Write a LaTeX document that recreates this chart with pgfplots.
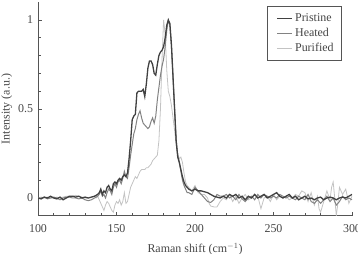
\documentclass[border=0pt]{standalone}
\usepackage{pgfplots}
\pgfplotsset{compat=1.18}
\usepackage{fontspec}
\setmainfont{Liberation Serif}
\definecolor{cPri}{RGB}{65,65,65}
\definecolor{cHea}{RGB}{130,130,130}
\definecolor{cPur}{RGB}{195,195,195}
\definecolor{cAx}{RGB}{85,85,85}
\definecolor{cTxt}{RGB}{70,70,70}
\begin{document}
\begin{tikzpicture}
\begin{axis}[
  scale only axis, width=314bp, height=213.6bp,
  xmin=100, xmax=300, ymin=-0.1, ymax=1.1,
  axis lines*=left, axis line style={cAx, line width=0.8pt},
  xtick={100,150,200,250,300}, ytick={0,0.5,1},
  minor x tick num=4, minor y tick num=4,
  tick align=inside, tick pos=left,
  major tick length=4bp, minor tick length=2.5bp,
  tick style={cAx, line width=0.6pt},
  /pgf/number format/assume math mode=true,
  ticklabel style={font=\fontsize{12}{14}\selectfont, text=cTxt},
  xticklabel style={yshift=-5bp},
  yticklabel style={xshift=-1.5bp},
  label style={font=\fontsize{12}{14}\selectfont, text=cTxt},
  xlabel={Raman shift (cm$^{-1}$)},
  ylabel={Intensity (a.u.)},
  xlabel style={yshift=-4bp},
  ylabel style={yshift=-1bp},
  legend cell align=left, reverse legend,
  legend style={at={(rel axis cs:0.968,0.982)}, anchor=north east,
    draw=cAx, line width=0.7pt, font=\fontsize{12}{13}\selectfont, text=cTxt,
    row sep=1pt, inner xsep=6pt, inner ysep=5.5pt},
  legend image code/.code={\path (0bp,0bp); \draw[#1] (4bp,0bp) -- (19bp,0bp);},
]
\addplot[cPur, line width=0.8pt] coordinates {
(100,0.0)(102,0.005)(104,0.0)(106,0.005)(108,0.0)(110,0.0)(112,0.005)(114,0.0)(116,0.005)(118,0.01)(120,0.01)(122,0.01)(124,0.015)(126,0.01)(128,0.005)(130,0.0)(132,0.0)(134,0.005)(136,0.01)(137,0.0)(138,0.01)(139,-0.01)(140,-0.03)(141,-0.05)(142,-0.07)(143,-0.04)(144,-0.02)(145,-0.03)(146,-0.05)(147,-0.07)(148,-0.08)(149,-0.04)(150,-0.02)(151,-0.03)(152,-0.01)(153,-0.04)(154,-0.02)(155,0.03)(156,-0.03)(157,-0.02)(158,0.02)(159,0.06)(160,0.08)(161,0.1)(162,0.12)(163,0.11)(164,0.13)(165,0.15)(166,0.16)(167,0.16)(168,0.16)(169,0.17)(170,0.17)(171,0.18)(172,0.19)(173,0.21)(174,0.22)(175,0.23)(176,0.24)(177,0.32)(178,0.5)(179,0.78)(180,1.0)(181,0.92)(182,0.72)(183,0.6)(184,0.57)(185,0.52)(186,0.45)(187,0.38)(188,0.3)(189,0.25)(190,0.22)(191,0.23)(192,0.2)(193,0.14)(194,0.09)(195,0.07)(196,0.06)(198,0.04)(200,0.07)(202,0.03)(204,0.02)(206,0.02)(208,0.0)(209,-0.03)(210,-0.045)(212,-0.05)(214,-0.05)(216,-0.02)(218,0.0)(220,-0.01)(222,0.02)(224,-0.02)(226,0.01)(228,-0.03)(230,0.0)(232,0.02)(234,-0.01)(236,0.0)(238,0.02)(240,0.01)(242,-0.06)(244,0.0)(246,0.01)(248,-0.02)(250,0.02)(252,-0.01)(254,0.01)(256,0.0)(258,0.01)(260,-0.01)(262,0.0)(264,0.02)(266,0.01)(268,0.04)(270,0.03)(272,-0.02)(274,0.03)(276,-0.04)(278,0.01)(279,-0.06)(280,-0.08)(282,-0.02)(284,0.04)(286,-0.01)(287,0.06)(288,0.09)(289,0.0)(290,-0.1)(291,-0.03)(292,0.06)(294,0.02)(296,0.05)(298,-0.03)(300,0.01)
};
\addlegendentry{Purified}
\addplot[cHea, line width=1.0pt] coordinates {
(100,0.0)(102,0.0)(104,0.005)(106,-0.005)(108,0.0)(110,0.005)(112,0.0)(114,-0.01)(116,0.0)(118,0.005)(120,0.005)(122,0.0)(124,0.0)(126,-0.005)(128,0.0)(130,-0.01)(132,-0.015)(134,-0.01)(136,0.0)(138,0.01)(139,0.02)(140,0.04)(141,0.01)(142,0.02)(143,0.0)(144,0.03)(145,0.05)(146,0.04)(147,0.02)(148,0.06)(149,0.08)(150,0.06)(151,0.09)(152,0.1)(153,0.08)(154,0.11)(155,0.15)(156,0.12)(157,0.11)(158,0.17)(159,0.24)(160,0.3)(161,0.36)(162,0.39)(163,0.44)(164,0.47)(165,0.49)(166,0.45)(167,0.42)(168,0.41)(169,0.40)(170,0.39)(171,0.40)(172,0.43)(173,0.45)(174,0.42)(175,0.46)(176,0.55)(177,0.62)(178,0.69)(179,0.74)(180,0.78)(181,0.85)(182,0.94)(183,1.0)(184,0.97)(185,0.85)(186,0.68)(187,0.5)(188,0.33)(189,0.24)(190,0.2)(191,0.15)(192,0.1)(193,0.07)(194,0.05)(195,0.03)(196,0.03)(198,0.02)(200,0.06)(202,0.04)(204,0.02)(206,0.0)(208,-0.02)(210,-0.025)(212,-0.01)(214,0.02)(216,0.01)(218,0.01)(220,0.02)(222,0.0)(224,0.01)(226,-0.01)(228,0.02)(230,-0.005)(232,-0.02)(234,0.0)(236,0.01)(238,-0.01)(240,0.02)(242,0.0)(244,0.02)(246,0.01)(248,0.0)(250,0.01)(252,0.0)(254,0.02)(256,0.01)(258,0.0)(260,0.01)(262,0.0)(264,-0.01)(266,0.01)(268,0.0)(270,-0.01)(272,0.02)(274,-0.02)(276,-0.03)(278,-0.01)(280,-0.03)(282,-0.01)(284,0.01)(286,-0.02)(288,0.0)(290,-0.04)(292,-0.02)(294,0.01)(296,-0.01)(298,0.0)(300,-0.01)
};
\addlegendentry{Heated}
\addplot[cPri, line width=1.3pt] coordinates {
(100,0.0)(102,-0.005)(104,0.005)(106,0.0)(108,0.01)(110,0.0)(112,-0.005)(114,0.005)(116,-0.01)(118,0.0)(120,0.01)(122,0.01)(124,0.005)(126,0.01)(128,0.0)(130,0.005)(132,0.0)(134,0.005)(136,0.01)(138,0.02)(139,0.03)(140,0.05)(141,0.02)(142,0.04)(143,0.03)(144,0.06)(145,0.07)(146,0.05)(147,0.04)(148,0.08)(149,0.09)(150,0.08)(151,0.1)(152,0.11)(153,0.1)(154,0.12)(155,0.13)(156,0.12)(157,0.14)(158,0.22)(159,0.32)(160,0.44)(161,0.46)(162,0.47)(163,0.59)(164,0.6)(165,0.6)(166,0.6)(167,0.61)(168,0.57)(169,0.64)(170,0.73)(171,0.77)(172,0.77)(173,0.75)(174,0.7)(175,0.69)(176,0.75)(177,0.8)(178,0.82)(179,0.83)(180,0.85)(181,0.9)(182,0.97)(183,1.0)(184,0.98)(185,0.86)(186,0.68)(187,0.5)(188,0.32)(189,0.23)(190,0.2)(191,0.16)(192,0.12)(193,0.09)(194,0.07)(195,0.06)(196,0.05)(198,0.04)(200,0.05)(202,0.04)(204,0.04)(206,0.035)(208,0.03)(210,0.02)(212,0.01)(214,0.005)(216,0.0)(218,0.01)(220,0.0)(222,0.02)(224,0.01)(226,0.02)(228,0.0)(230,0.01)(232,-0.01)(234,0.01)(236,0.0)(238,0.02)(240,0.0)(242,0.01)(244,0.02)(246,0.0)(248,0.01)(250,0.02)(252,0.03)(254,0.01)(256,0.0)(258,0.01)(260,0.02)(262,0.0)(264,0.01)(266,-0.01)(268,0.0)(270,0.01)(272,-0.005)(274,0.0)(276,-0.01)(278,0.0)(280,0.005)(282,-0.01)(284,0.0)(286,0.005)(288,0.0)(290,-0.01)(292,0.0)(294,0.005)(296,0.0)(298,0.01)(300,0.02)
};
\addlegendentry{Pristine}
\end{axis}
\pgfresetboundingbox
\path (-38bp,-38bp) rectangle (320bp,215.8bp);
\end{tikzpicture}
\end{document}
